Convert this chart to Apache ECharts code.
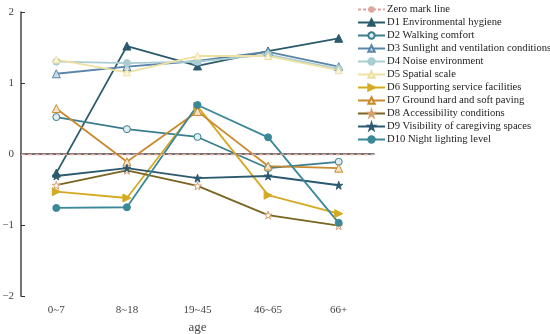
<!DOCTYPE html>
<html><head><meta charset="utf-8">
<script src="https://cdn.jsdelivr.net/npm/echarts@6/dist/echarts.min.js"></script>
<style>html,body{margin:0;padding:0;background:#fff}#c{width:550px;height:334px}</style>
</head><body><div id="c"></div>
<script>
const categories = ['0~7', '8~18', '19~45', '46~65', '66+'];
const seriesNames = [
  'D1 Environmental hygiene',
  'D2 Walking comfort',
  'D3 Sunlight and ventilation conditions',
  'D4 Noise environment',
  'D5 Spatial scale',
  'D6 Supporting service facilities',
  'D7 Ground hard and soft paving',
  'D8 Accessibility conditions',
  'D9 Visibility of caregiving spaces',
  'D10 Night lighting level'
];
const d1 = [-0.27, 1.52, 1.24, 1.45, 1.63];
const d2 = [0.52, 0.35, 0.24, -0.20, -0.11];
const d3 = [1.13, 1.23, 1.31, 1.44, 1.23];
const d4 = [1.30, 1.28, 1.30, 1.40, 1.20];
const d5 = [1.33, 1.15, 1.38, 1.38, 1.18];
const d6 = [-0.53, -0.62, 0.67, -0.58, -0.84];
const d7 = [0.64, -0.11, 0.60, -0.17, -0.20];
const d8 = [-0.44, -0.23, -0.45, -0.86, -1.01];
const d9 = [-0.31, -0.20, -0.34, -0.31, -0.44];
const d10 = [-0.76, -0.75, 0.69, 0.235, -0.97];
const yTicks = [-2, -1, 0, 1, 2];

const star = 'path://M50,0 L61,35 L98,35 L68,57 L79,91 L50,70 L21,91 L32,57 L2,35 L39,35 Z';
const styles = [
  {c:'#2b5b6b', sym:'triangle', fill:null, size:8},
  {c:'#3a7d8d', sym:'circle', fill:'#dfeef2', size:7},
  {c:'#5a84a8', sym:'triangle', fill:'#c8dbe8', size:8},
  {c:'#a9cdd0', sym:'circle', fill:null, size:7},
  {c:'#eedfa2', sym:'triangle', fill:'#fbf4dc', size:7},
  {c:'#d4aa22', sym:'triangle', fill:null, size:8, rot:-90},
  {c:'#c98a2e', sym:'triangle', fill:'#f6e2c4', size:8},
  {c:'#7a6420', sym:star, fill:'#ffffff', size:8, bc:'#d8a070'},
  {c:'#2b5a70', sym:star, fill:null, size:8},
  {c:'#3a8898', sym:'circle', fill:null, size:7}
];
const data = [d1,d2,d3,d4,d5,d6,d7,d8,d9,d10];
const font = 'Liberation Serif';
const zeroColor = '#e0a59c';

const series = [{
  name: 'Zero mark line', type: 'line', data: [], symbol: 'none',
  lineStyle: {type: [3, 2], color: zeroColor, width: 1.2},
  itemStyle: {color: zeroColor},
  markLine: {silent: true, symbol: 'none', label: {show: false},
    lineStyle: {type: [4, 3], color: zeroColor, width: 1.3},
    data: [{yAxis: 0}]}
}];
seriesNames.forEach((n, i) => {
  const s = styles[i];
  series.push({
    name: n, type: 'line', data: data[i], symbol: s.sym, symbolSize: s.size,
    symbolRotate: s.rot || 0, showSymbol: true,
    lineStyle: {color: s.c, width: 1.8},
    itemStyle: {color: s.fill || s.c, borderColor: s.bc || s.c, borderWidth: 1}
  });
});

const chart = echarts.init(document.getElementById('c'), null, {renderer: 'canvas'});
chart.setOption({
  animation: false,
  backgroundColor: '#fff',
  grid: {left: 21, right: 176, top: 12, bottom: 38, containLabel: false, outerBoundsMode: 'none'},
  legend: {
    orient: 'vertical', left: 357, top: 4, padding: 0, itemWidth: 27, itemHeight: 8, itemGap: 2,
    textStyle: {fontFamily: font, fontSize: 10.6, lineHeight: 8, color: '#222', padding: [0,0,0,-3]},
    data: ['Zero mark line'].concat(seriesNames)
  },
  xAxis: {
    type: 'category', data: categories, boundaryGap: true,
    name: 'age', nameLocation: 'middle', nameGap: 23,
    nameTextStyle: {fontFamily: font, fontSize: 13, color: '#444'},
    axisLine: {lineStyle: {color: '#444', width: 1.5}},
    axisTick: {inside: true, alignWithLabel: true, length: 4, lineStyle: {color: '#333'}},
    axisLabel: {fontFamily: font, fontSize: 11, color: '#444', margin: 9}
  },
  yAxis: {
    type: 'value', min: yTicks[0], max: yTicks[yTicks.length - 1], interval: 1,
    axisLine: {show: true, lineStyle: {color: '#444', width: 1.5}},
    axisTick: {show: true, inside: true, length: 4, lineStyle: {color: '#333'}},
    splitLine: {show: false},
    axisLabel: {fontFamily: font, fontSize: 11, color: '#444', margin: 7,
      formatter: v => (v < 0 ? '\u2212' + Math.abs(v) : String(v))}
  },
  series: series
});
</script></body></html>
